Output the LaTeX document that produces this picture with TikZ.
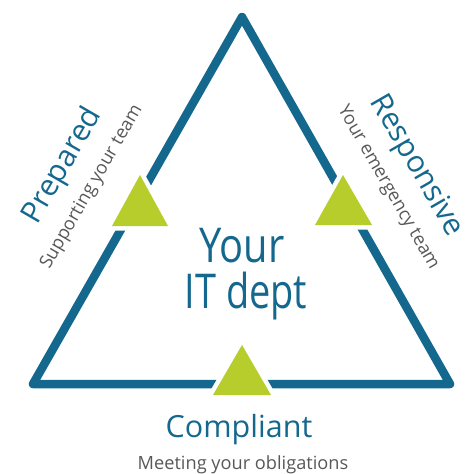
\documentclass[tikz,border=0pt]{standalone}
\usepackage{fontspec}
\setmainfont{Open Sans}
\definecolor{tblue}{RGB}{20,104,142}
\definecolor{tgreen}{RGB}{183,205,44}
\definecolor{tgray}{RGB}{88,88,88}
\tikzset{
  frame/.style={draw=tblue, line width=8.5pt, line join=round},
  gtri/.style={fill=tgreen, preaction={draw=white, line width=9pt, line join=miter}},
  title/.style={text=tblue, inner sep=0pt},
  big/.style={title, anchor=base, font=\fontsize{48}{48}\selectfont},
  sub/.style={text=tgray, inner sep=0pt, font=\fontsize{18.2}{20}\selectfont},
}
\begin{document}
\begin{tikzpicture}[x=1pt,y=1pt]
\useasboundingbox (0,0) rectangle (475,-474);
% main triangle
\draw[frame] (242,-17) -- (450,-384) -- (33,-384) -- cycle;
% green markers
\path[gtri] (140,-175) -- (168,-226) -- (112,-226) -- cycle;
\path[gtri] (343,-175) -- (372,-225) -- (315,-225) -- cycle;
\path[gtri] (242,-345) -- (271,-395) -- (213,-395) -- cycle;
% centre
\node[big] (your) at (242,-262) {\scalebox{0.83}[1]{Your}};
\node[big] (itdept) at (246,-308) {\scalebox{0.79}[1]{IT dept}};
% bottom
\node[title, anchor=base, font=\fontsize{30.5}{32}\selectfont] (compliant) at (239,-437) {Compliant};
\node[sub, anchor=base] (comsub) at (243,-469) {Meeting your obligations};
% left
\node[title, rotate=60, font=\fontsize{30}{32}\selectfont] (prepared) at (63,-166) {Prepared};
\node[sub, rotate=60] (presub) at (92,-187) {Supporting your team};
% right
\node[title, rotate=-60, font=\fontsize{30}{32}\selectfont] (responsive) at (416,-166) {Responsive};
\node[sub, rotate=-60] (ressub) at (388,-188) {Your emergency team};
\end{tikzpicture}
\end{document}
